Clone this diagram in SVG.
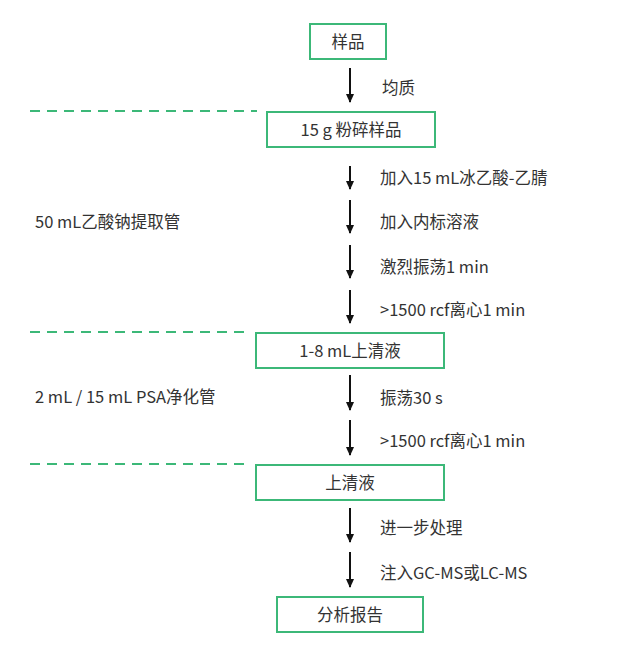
<svg xmlns="http://www.w3.org/2000/svg" width="635" height="669" viewBox="0 0 635 669">
<defs>
<marker id="ah" markerWidth="9" markerHeight="8" refX="8" refY="4" orient="auto" markerUnits="userSpaceOnUse" viewBox="0 0 9 8">
<path d="M0,0 L9,4 L0,8 Z" fill="#111"/>
</marker>
</defs>
<style>
.box{fill:#fff;stroke:#3cb878;stroke-width:2}
.dash{stroke:#3cb878;stroke-width:2;stroke-dasharray:10,7;fill:none}
.arr{stroke:#111;stroke-width:2;fill:none;marker-end:url(#ah)}
text{font-family:"Noto Sans CJK SC","Noto Sans",sans-serif;font-size:16.5px;fill:#333}
.c{text-anchor:middle}
</style>
<rect width="635" height="669" fill="#fff"/>
<g id="dividers">
<line class="dash" x1="30" y1="111" x2="257" y2="111"/>
<line class="dash" x1="30" y1="332" x2="247" y2="332"/>
<line class="dash" x1="30" y1="464" x2="247" y2="464"/>
</g>
<g id="side-labels">
<text x="35" y="228">50 mL乙酸钠提取管</text>
<text x="35" y="403">2 mL / 15 mL PSA净化管</text>
</g>
<g id="n1"><rect class="box" x="310" y="24" width="76" height="35"/><text class="c" x="348" y="47.500">样品</text></g>
<g id="n2"><rect class="box" x="267" y="112" width="168" height="35"/><text class="c" x="351" y="135.500">15 g 粉碎样品</text></g>
<g id="n3"><rect class="box" x="256" y="333" width="188" height="35"/><text class="c" x="350" y="356.500">1-8 mL上清液</text></g>
<g id="n4"><rect class="box" x="256" y="465" width="188" height="35"/><text class="c" x="350" y="488.500">上清液</text></g>
<g id="n5"><rect class="box" x="277" y="597" width="146" height="35"/><text class="c" x="350" y="620.500">分析报告</text></g>
<g id="connectors">
<line class="arr" x1="350" y1="68" x2="350" y2="102"/>
<line class="arr" x1="350" y1="166" x2="350" y2="189"/>
<line class="arr" x1="350" y1="200" x2="350" y2="233"/>
<line class="arr" x1="350" y1="245" x2="350" y2="278"/>
<line class="arr" x1="350" y1="290" x2="350" y2="323"/>
<line class="arr" x1="350" y1="375" x2="350" y2="410"/>
<line class="arr" x1="350" y1="420" x2="350" y2="455"/>
<line class="arr" x1="350" y1="508" x2="350" y2="542"/>
<line class="arr" x1="350" y1="552" x2="350" y2="587"/>
</g>
<g id="step-labels">
<text x="382" y="94">均质</text>
<text x="380" y="184">加入15 mL冰乙酸-乙腈</text>
<text x="380" y="228">加入内标溶液</text>
<text x="380" y="273">激烈振荡1 min</text>
<text x="380" y="316">&gt;1500 rcf离心1 min</text>
<text x="380" y="404">振荡30 s</text>
<text x="380" y="447">&gt;1500 rcf离心1 min</text>
<text x="380" y="534">进一步处理</text>
<text x="380" y="579">注入GC-MS或LC-MS</text>
</g>
</svg>
